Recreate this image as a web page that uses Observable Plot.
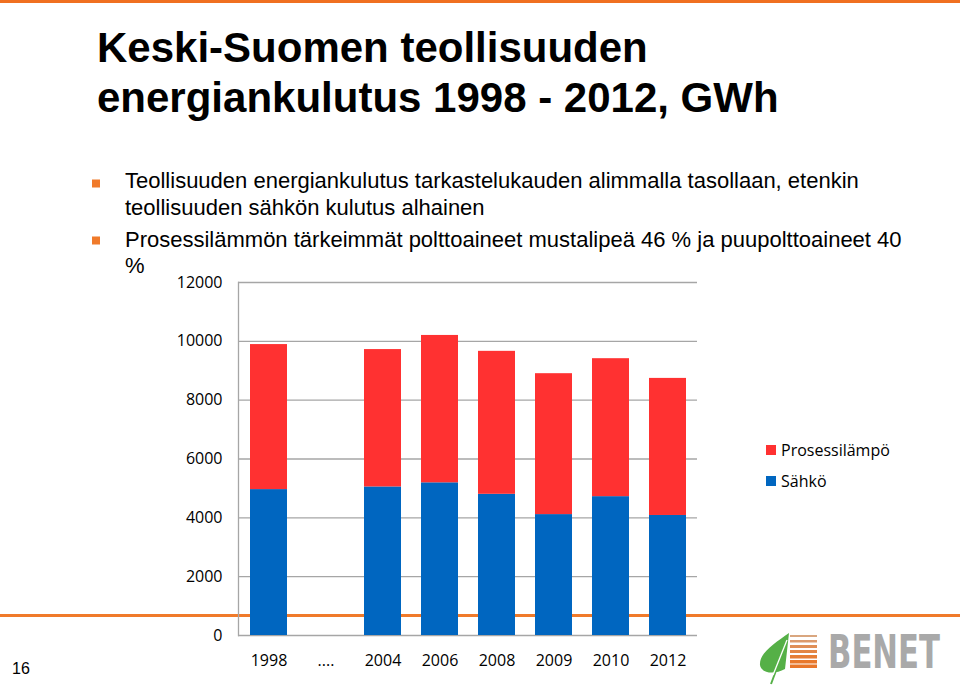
<!DOCTYPE html>
<html>
<head>
<meta charset="utf-8">
<script src="https://cdn.jsdelivr.net/npm/d3@7"></script>
<script src="https://cdn.jsdelivr.net/npm/@observablehq/plot@0.6"></script>
<style>
  html, body { margin: 0; padding: 0; background: #fff; }
  #page { position: relative; width: 960px; height: 687px; overflow: hidden; background: #fff; }
  #page > * { position: absolute; left: 0; top: 0; }
</style>
</head>
<body>
<div id="page">
  <div id="topline" style="left:0;top:0;width:960px;height:3px;background:#F07020;"></div>
  <div id="midline" style="left:0;top:614px;width:960px;height:3px;background:#F07A2A;"></div>
  <div id="chart"></div>
  <svg id="overlay" width="960" height="687" style="pointer-events:none">
    <g font-family="'Liberation Sans', Arial, sans-serif" fill="#000">
      <text x="97" y="62" font-size="42" font-weight="bold">Keski-Suomen teollisuuden</text>
      <text x="97" y="112" font-size="42" font-weight="bold">energiankulutus 1998 - 2012, GWh</text>
      <rect x="92" y="179.5" width="8" height="8" fill="#F07A2A"></rect>
      <text x="125" y="188" font-size="22">Teollisuuden energiankulutus tarkastelukauden alimmalla tasollaan, etenkin</text>
      <text x="125" y="215" font-size="22">teollisuuden sähkön kulutus alhainen</text>
      <rect x="92" y="236.5" width="8" height="8" fill="#F07A2A"></rect>
      <text x="125" y="247" font-size="22">Prosessilämmön tärkeimmät polttoaineet mustalipeä 46 % ja puupolttoaineet 40</text>
      <text x="125" y="273" font-size="22">%</text>
      <text x="12" y="674" font-size="16">16</text>
    </g>
    <g id="legend" font-family="'Open Sans', sans-serif" font-size="16" fill="#000"></g>
    <g id="logo">
      <rect x="790" y="635" width="27" height="2" fill="#D9A67F"></rect>
      <rect x="790" y="640" width="27" height="2.5" fill="#DC9A6C"></rect>
      <rect x="790" y="645" width="27" height="3" fill="#E08F57"></rect>
      <rect x="790" y="650" width="27" height="3" fill="#E38645"></rect>
      <rect x="790" y="655" width="27" height="3.5" fill="#E67E36"></rect>
      <rect x="790" y="660" width="27" height="3.5" fill="#E8782C"></rect>
      <rect x="790" y="664.5" width="27" height="3.5" fill="#E8762A"></rect>
      <path d="M789,633 C775,643 759,653 760,665 C761,673 774,675 785,669 L789,633 Z" fill="#55B047"></path>
      <line x1="777" y1="668" x2="771" y2="684" stroke="#55B047" stroke-width="2"></line>
      <line x1="773" y1="675" x2="787" y2="640" stroke="#fff" stroke-width="1.3"></line>
      <text transform="translate(828,668) scale(1,1.45)" x="0" y="0" font-family="'DejaVu Sans Condensed', 'DejaVu Sans', sans-serif" font-weight="bold" font-size="32" fill="#A9A9A9" textLength="112" lengthAdjust="spacingAndGlyphs">BENET</text>
    </g>
  </svg>
</div>
<script>
const categories = ["1998", "....", "2004", "2006", "2008", "2009", "2010", "2012"];
const sahko = [4960, null, 5050, 5190, 4800, 4110, 4720, 4080];
const prosessilampo = [4930, null, 4670, 5010, 4860, 4790, 4690, 4660];
const seriesNames = ["Prosessilämpö", "Sähkö"];
const seriesColors = ["#FF3131", "#0066C0"];
const yTicks = [0, 2000, 4000, 6000, 8000, 10000, 12000];

const data = categories.flatMap((c, i) => sahko[i] == null ? [] : [
  {cat: c, series: "Sähkö", value: sahko[i]},
  {cat: c, series: "Prosessilämpö", value: prosessilampo[i]}
]);

const chart = Plot.plot({
  width: 960,
  height: 687,
  marginLeft: 238,
  marginRight: 263,
  marginTop: 282,
  marginBottom: 52,
  style: {background: "transparent", fontFamily: "'Open Sans', sans-serif", fontSize: "16px", color: "#000"},
  x: {domain: categories, paddingInner: 0.355, paddingOuter: 0.1775, label: null},
  y: {domain: [0, 12000], label: null},
  color: {domain: seriesNames, range: seriesColors},
  marks: [
    Plot.ruleY(yTicks, {stroke: "#A6A6A6", strokeWidth: 1.3}),
    Plot.frame({anchor: "left", stroke: "#A6A6A6", strokeWidth: 1.3}),
    Plot.barY(data, {x: "cat", y: "value", fill: "series"}),
    Plot.axisY({ticks: yTicks, tickSize: 0, tickPadding: 16, label: null, fontSize: 16, tickFormat: d => String(d)}),
    Plot.axisX({tickSize: 0, tickPadding: 19, label: null, fontSize: 16})
  ]
});
document.getElementById("chart").appendChild(chart);

const lg = document.getElementById("legend");
const ns = "http://www.w3.org/2000/svg";
seriesNames.forEach((name, i) => {
  const y = 445 + i * 31;
  const r = document.createElementNS(ns, "rect");
  r.setAttribute("x", 766); r.setAttribute("y", y);
  r.setAttribute("width", 10); r.setAttribute("height", 10);
  r.setAttribute("fill", seriesColors[i]);
  lg.appendChild(r);
  const t = document.createElementNS(ns, "text");
  t.setAttribute("x", 781); t.setAttribute("y", y + 11);
  t.textContent = name;
  lg.appendChild(t);
});
</script>
</body>
</html>
